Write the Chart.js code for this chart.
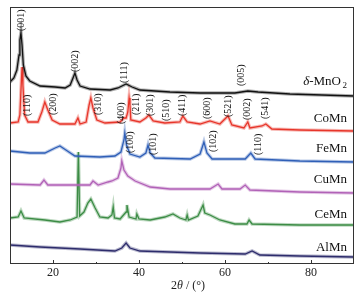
<!DOCTYPE html>
<html>
<head>
<meta charset="utf-8">
<script src="https://cdn.jsdelivr.net/npm/chart.js@4/dist/chart.umd.min.js"></script>
<style>
  html, body { margin: 0; padding: 0; background: #fff; }
  canvas { display: block; }
</style>
</head>
<body>
<canvas id="xrdChart" width="363" height="297"></canvas>
<script>
// 2theta / intensity (arb. units, stacked)
const mno2 = [[10,182],[10.9,186],[11.6,194],[12.1,209],[12.3,224],[12.55,231],[12.8,219],[13.1,199],[13.7,188],[14.6,183],[17,178],[20.5,177],[22.8,176],[24,179],[24.65,186],[25.1,191],[25.6,184],[26.3,178],[28.6,175],[33.3,174],[35.1,176],[37,180],[38.4,177],[40.2,174],[47.2,172],[54.2,171],[62.3,171],[65.3,173],[67.7,172],[75.1,170],[90,168]];
const coMn = [[10,141],[11.9,142],[12.3,149],[12.55,174],[12.8,197],[13,179],[13.4,149],[14.2,142],[16.5,142],[17.4,152],[18.1,162],[18.8,154],[19.8,144],[21.6,140],[25.1,140],[25.8,146],[26.3,140],[27.7,142],[28.4,159],[28.8,166],[29.3,156],[30.2,144],[32.1,141],[35.6,142],[36.5,146],[37,146],[37.4,152],[37.7,166],[37.9,159],[38.1,144],[40.2,142],[41.6,146],[42.3,149],[43.3,143],[46,141],[49.5,142],[50.2,148],[51.2,142],[54.2,140],[56.5,143],[58.8,140],[60.7,148],[61.6,139],[64.4,136],[65.3,142],[65.8,136],[68.6,138],[69.5,140],[70.9,135],[77.4,134],[90,133]];
const feMn = [[10,113],[14.6,111],[18.1,111],[20.5,116],[21.6,118],[23,114],[25.1,108],[30.9,107],[34.4,108],[35.8,112],[36.5,124],[36.7,131],[37.1,119],[37.9,110],[40.2,107],[41.6,111],[42.1,119],[42.6,111],[43.7,106],[51.9,105],[54.2,110],[55.1,122],[55.8,111],[57,105],[64.7,105],[66,111],[67,105],[77.4,103],[90,102]];
const cuMn = [[10,80],[17,79],[17.9,84],[18.8,79],[28.6,79],[29.3,83],[30.5,79],[32.8,82],[33.7,83],[35.1,86],[35.8,96],[36,103],[36.5,94],[37.4,88],[39.1,83],[42.6,77],[47.2,75],[56.5,75],[58.4,80],[59.3,75],[63.5,75],[64.7,79],[65.8,74],[77.4,72],[90,71]];
const ceMn = [[10,46],[11.9,47],[12.55,53],[13.3,46],[18.1,44],[21.6,42],[24,44],[25.6,47],[25.9,112],[26.2,48],[27.2,52],[28.1,61],[28.8,65],[29.8,56],[30.9,47],[32.8,46],[33.7,49],[34,57],[34.3,46],[35.6,45],[37,52],[37.2,59],[37.7,47],[39.3,45],[39.5,50],[40,45],[42.6,44],[46,47],[47.9,50],[49.5,46],[50.9,44],[51.2,49],[51.5,44],[53.7,48],[54.9,59],[55.3,51],[56.5,49],[58.8,44],[62.3,40],[65.1,40],[65.6,44],[66.3,40],[77.4,39],[90,39]];
const alMn = [[10,19],[17,17],[26.3,15],[34.4,13],[36,16],[37,21],[37.9,16],[40.2,13],[54.2,11],[64.7,10],[66.3,13],[68.1,9],[77.4,8],[90,7]];

const seriesNames = ['δ-MnO2', 'CoMn', 'FeMn', 'CuMn', 'CeMn', 'AlMn'];
const seriesData = [mno2, coMn, feMn, cuMn, ceMn, alMn];
const nameLevels = [182, 145, 115, 84, 49, 16];

// hkl labels: [text, 2theta, intensity at lower end of rotated text]
const hklLabels = [
  ['(001)', 12.55, 233], ['(002)', 25.1, 192], ['(111)', 36.7, 181], ['(005)', 63.7, 178],
  ['(110)', 14, 148], ['(200)', 20, 149], ['(310)', 30.5, 149], ['(400)', 35.8, 140],
  ['(211)', 39.3, 149], ['(301)', 42.6, 148], ['(510)', 46.3, 143], ['(411)', 50.2, 148],
  ['(600)', 56, 145], ['(521)', 60.7, 147], ['(002)', 65.3, 144], ['(541)', 69.5, 145],
  ['(100)', 37.9, 111], ['(101)', 43.3, 109], ['(102)', 57.2, 112], ['(110)', 67.7, 109]
];

const xTicks = [20, 40, 60, 80];
const xMinorTicks = [30, 50, 70];

const colors = ['#111111', '#e8352b', '#2f5fb8', '#b262b8', '#3c8c46', '#2e2c6c'];
const SERIF = '"Liberation Serif", "DejaVu Serif", serif';

const toPoints = arr => arr.map(p => ({x: p[0], y: p[1]}));

const datasets = [];
seriesData.forEach((arr, i) => {
    // faint wide band to mimic the noisy trace
    datasets.push({
        data: toPoints(arr),
        borderColor: colors[i] + '55',
        borderWidth: 3.5,
        pointRadius: 0,
        tension: 0,
    });
    datasets.push({
        data: toPoints(arr),
        borderColor: colors[i],
        borderWidth: 1.3,
        pointRadius: 0,
        tension: 0,
    });
});

const decorations = {
    id: 'decorations',
    afterDraw(chart) {
        const {ctx, chartArea: a, scales: {x, y}} = chart;
        ctx.save();

        // frame
        ctx.strokeStyle = '#333';
        ctx.lineWidth = 1;
        ctx.strokeRect(a.left + 0.5, a.top + 0.5, a.right - a.left - 1, a.bottom - a.top - 1);

        // inward ticks
        ctx.beginPath();
        xTicks.forEach(v => {
            const px = Math.round(x.getPixelForValue(v)) + 0.5;
            ctx.moveTo(px, a.bottom);
            ctx.lineTo(px, a.bottom - 4);
        });
        xMinorTicks.forEach(v => {
            const px = Math.round(x.getPixelForValue(v)) + 0.5;
            ctx.moveTo(px, a.bottom);
            ctx.lineTo(px, a.bottom - 2);
        });
        ctx.stroke();

        // tick labels
        ctx.fillStyle = '#222';
        ctx.font = '12px ' + SERIF;
        ctx.textAlign = 'center';
        ctx.textBaseline = 'middle';
        xTicks.forEach(v => ctx.fillText(String(v), x.getPixelForValue(v), a.bottom + 9));

        // axis title: 2θ / (°)
        const ty = a.bottom + 22;
        const parts = [['2', 'normal'], ['θ', 'italic'], [' / (°)', 'normal']];
        let total = 0;
        parts.forEach(p => { ctx.font = p[1] + ' 12px ' + SERIF; total += ctx.measureText(p[0]).width; });
        let cx = (a.left + a.right) / 2 + 6 - total / 2;
        ctx.textAlign = 'left';
        parts.forEach(p => {
            ctx.font = p[1] + ' 12px ' + SERIF;
            ctx.fillText(p[0], cx, ty);
            cx += ctx.measureText(p[0]).width;
        });

        // hkl labels, rotated
        ctx.font = 'normal 10px ' + SERIF;
        ctx.fillStyle = '#111';
        hklLabels.forEach(([t, tx, tv]) => {
            ctx.save();
            ctx.translate(x.getPixelForValue(tx), y.getPixelForValue(tv));
            ctx.rotate(-Math.PI / 2);
            ctx.textAlign = 'left';
            ctx.textBaseline = 'middle';
            ctx.fillText(t, 0, 0);
            ctx.restore();
        });

        // series names
        ctx.textAlign = 'right';
        ctx.textBaseline = 'middle';
        seriesNames.forEach((n, i) => {
            const px = a.right - 7;
            const py = y.getPixelForValue(nameLevels[i]);
            if (n === 'δ-MnO2') {
                const subW = 6;
                ctx.font = 'normal 9px ' + SERIF;
                ctx.fillText('2', px, py + 4);
                ctx.font = 'normal 13px ' + SERIF;
                const mW = ctx.measureText('-MnO').width;
                ctx.fillText('-MnO', px - subW, py);
                ctx.font = 'italic 13px ' + SERIF;
                ctx.fillText('δ', px - subW - mW, py);
            } else {
                ctx.font = 'normal 13px ' + SERIF;
                ctx.fillText(n, px, py);
            }
        });
        ctx.restore();
    }
};

new Chart(document.getElementById('xrdChart').getContext('2d'), {
    type: 'line',
    data: {datasets},
    options: {
        responsive: false,
        animation: false,
        devicePixelRatio: 1,
        layout: {padding: {left: 10, right: 9, top: 7, bottom: 33}},
        plugins: {legend: {display: false}, tooltip: {enabled: false}},
        scales: {
            x: {type: 'linear', min: 10, max: 90, display: false},
            y: {type: 'linear', min: 0, max: 257, display: false}
        }
    },
    plugins: [decorations]
});
</script>
</body>
</html>
